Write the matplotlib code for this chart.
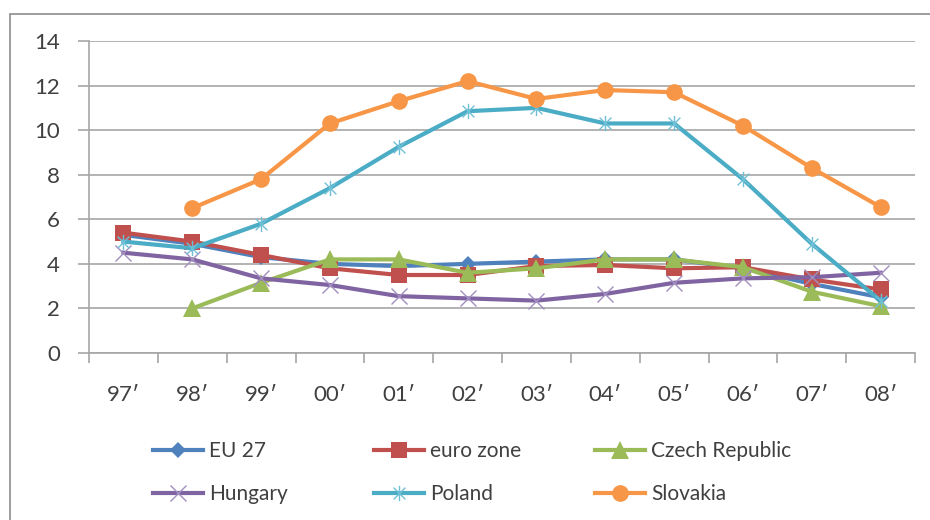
import matplotlib
matplotlib.use("Agg")
import matplotlib.pyplot as plt
from matplotlib.path import Path
from matplotlib.patches import Rectangle
import numpy as np

years = ["97\u2032", "98\u2032", "99\u2032", "00\u2032", "01\u2032", "02\u2032",
         "03\u2032", "04\u2032", "05\u2032", "06\u2032", "07\u2032", "08\u2032"]
nan = np.nan
eu27 = [5.3, 4.9, 4.3, 4.0, 3.9, 4.0, 4.1, 4.2, 4.2, 3.8, 3.1, 2.5]
euro_zone = [5.4, 5.0, 4.4, 3.8, 3.5, 3.5, 3.9, 3.95, 3.8, 3.85, 3.3, 2.85]
czech = [nan, 2.0, 3.15, 4.2, 4.2, 3.6, 3.8, 4.2, 4.2, 3.85, 2.75, 2.1]
hungary = [4.5, 4.2, 3.35, 3.05, 2.55, 2.45, 2.35, 2.65, 3.15, 3.35, 3.4, 3.6]
poland = [5.0, 4.7, 5.8, 7.4, 9.25, 10.85, 11.0, 10.3, 10.3, 7.8, 4.9, 2.35]
slovakia = [nan, 6.5, 7.8, 10.3, 11.3, 12.2, 11.4, 11.8, 11.7, 10.2, 8.3, 6.55]

plt.rcParams['font.family'] = ['Lato', 'DejaVu Sans']

fig = plt.figure(figsize=(9.3, 5.2), dpi=100)
W, H = 930, 520
# outer chart border
fig.patches.append(Rectangle((10 / W, -0.1), 1.2, (1 - 14 / H) + 0.1,
                             transform=fig.transFigure, fill=False,
                             edgecolor='#8c8c8c', linewidth=1.2))

ax = fig.add_axes([89 / W, 1 - 353 / H, (915 - 89) / W, (353 - 41) / H])
x = np.arange(len(years))

# asterisk marker for Poland (x plus vertical line)
star_verts = [(-1, -1), (1, 1), (-1, 1), (1, -1), (0, -1.3), (0, 1.3)]
star_codes = [Path.MOVETO, Path.LINETO] * 3
star = Path(star_verts, star_codes)

lw = 3.0
series = [
    ("EU 27", eu27, '#4F81BD', dict(marker='D', markersize=8.5, markeredgewidth=0)),
    ("euro zone", euro_zone, '#C0504D', dict(marker='s', markersize=11, markeredgewidth=0)),
    ("Czech Republic", czech, '#9BBB59', dict(marker='^', markersize=12.5, markeredgewidth=0)),
    ("Hungary", hungary, '#8064A2', dict(marker='x', markersize=11, markeredgewidth=1.0,
                                         markeredgecolor='#a28fc0')),
    ("Poland", poland, '#4BACC6', dict(marker=star, markersize=11, markeredgewidth=1.0,
                                       markeredgecolor='#6fc0d6')),
    ("Slovakia", slovakia, '#F79646', dict(marker='o', markersize=12, markeredgewidth=0)),
]
handles = []
for name, vals, col, mk in series:
    ln, = ax.plot(x, vals, color=col, linewidth=lw, label=name, zorder=3, **mk)
    handles.append(ln)

ax.set_xlim(-0.5, len(years) - 0.5)
ax.set_ylim(0, 14)
ax.set_yticks(np.arange(0, 15, 2))
ax.yaxis.grid(True, color='#a6a6a6', linewidth=1.2)
ax.set_axisbelow(True)
for s in ['top', 'right']:
    ax.spines[s].set_visible(False)
for s in ['left', 'bottom']:
    ax.spines[s].set_color('#a6a6a6')
    ax.spines[s].set_linewidth(1.2)

ax.set_xticks(np.arange(-0.5, len(years), 1.0))
ax.set_xticklabels([])
ax.set_xticks(x, minor=True)
ax.set_xticklabels(years, minor=True)
ax.tick_params(axis='x', which='major', length=7, color='#a6a6a6', width=1.2)
ax.tick_params(axis='x', which='minor', length=0, pad=23, labelsize=16, labelcolor='#404040')
ax.tick_params(axis='y', length=8, color='#a6a6a6', width=1.2, pad=13,
               labelsize=16, labelcolor='#404040')

# legend: three columns of two entries
col_x = [153, 374, 595]
for c in range(3):
    hs = [handles[c], handles[c + 3]]
    fig.legend(handles=hs, loc='upper left',
               bbox_to_anchor=(col_x[c] / W, 1 - 441 / H),
               frameon=False, fontsize=15, handlelength=2.4,
               handletextpad=0.3, labelspacing=1.12, borderaxespad=0,
               borderpad=0, labelcolor='#404040')
plt.savefig("out.png", dpi=100)
